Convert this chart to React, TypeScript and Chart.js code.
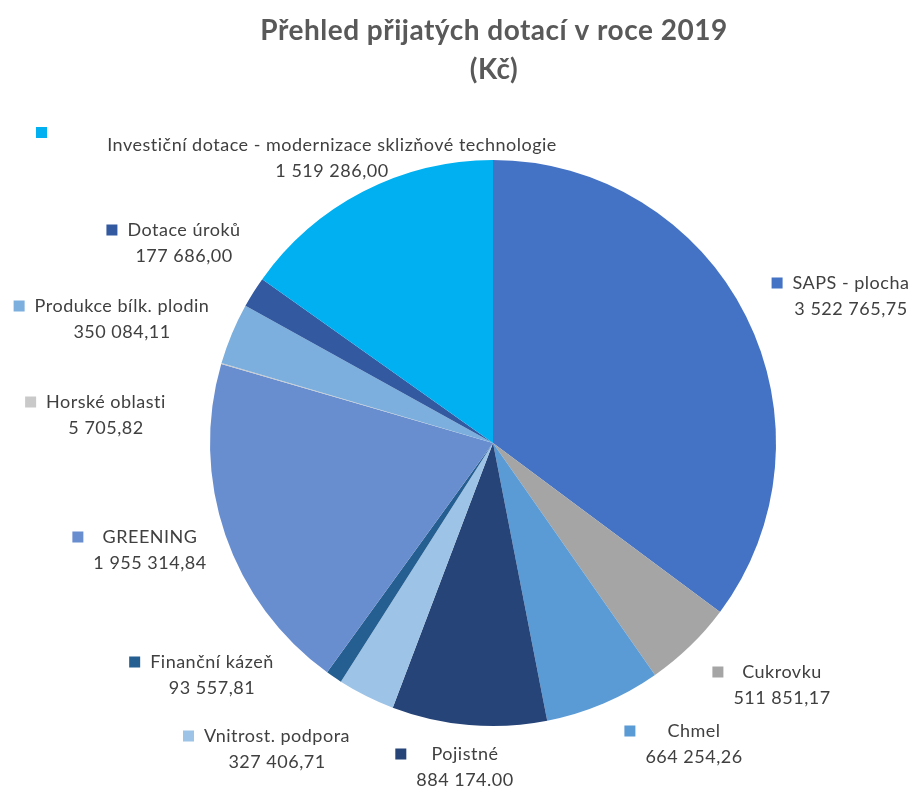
import React, { useEffect, useRef } from "react";
import { Chart, registerables } from "chart.js";

Chart.register(...registerables);

const categories = [
  "SAPS - plocha",
  "Cukrovku",
  "Chmel",
  "Pojistné",
  "Vnitrost. podpora",
  "Finanční kázeň",
  "GREENING",
  "Horské oblasti",
  "Produkce bílk. plodin",
  "Dotace úroků",
  "Investiční dotace - modernizace sklizňové technologie",
];

const values = [
  3522765.75, 511851.17, 664254.26, 884174.0, 327406.71, 93557.81,
  1955314.84, 5705.82, 350084.11, 177686.0, 1519286.0,
];

const valueTexts = [
  "3 522 765,75",
  "511 851,17",
  "664 254,26",
  "884 174.00",
  "327 406,71",
  "93 557,81",
  "1 955 314,84",
  "5 705,82",
  "350 084,11",
  "177 686,00",
  "1 519 286,00",
];

const colors = [
  "#4472C4",
  "#A5A5A5",
  "#5B9BD5",
  "#264478",
  "#9DC3E6",
  "#255E91",
  "#698ED0",
  "#C9C9C9",
  "#7CAFDD",
  "#335AA1",
  "#00B0F0",
];

const titleLines = ["Přehled přijatých dotací v roce 2019", "(Kč)"];

// label block placement (center x of text, center y of first line), relative to canvas
const labelLayout = [
  { x: 851, y: 283 },
  { x: 782, y: 672 },
  { x: 694, y: 731 },
  { x: 465, y: 754 },
  { x: 277, y: 736 },
  { x: 212, y: 662 },
  { x: 150, y: 537 },
  { x: 106, y: 402 },
  { x: 122, y: 306 },
  { x: 184, y: 230 },
  { x: 332, y: 145, sq: { x: 36, y: 127 } },
];

const FONT = "Lato, 'Open Sans', sans-serif";

const labelPlugin = {
  id: "outsideLabels",
  afterDraw(chart: any) {
    const ctx = chart.ctx as any;
    ctx.save();
    // title
    ctx.fillStyle = "#595959";
    ctx.font = `bold 28px ${FONT}`;
    ctx.letterSpacing = "0.5px";
    ctx.textAlign = "center";
    ctx.textBaseline = "middle";
    ctx.fillText(titleLines[0], 494, 31);
    ctx.fillText(titleLines[1], 494, 70);

    ctx.font = `18px ${FONT}`;
    ctx.letterSpacing = "0.5px";
    const bg = chart.data.datasets[0].backgroundColor as string[];
    chart.data.labels.forEach((lab: string, i: number) => {
      const lay: any = labelLayout[i];
      const t1 = lab;
      const t2 = valueTexts[i];
      const w = Math.max(ctx.measureText(t1).width, ctx.measureText(t2).width);
      ctx.fillStyle = "#404040";
      ctx.textAlign = "center";
      ctx.fillText(t1, lay.x, lay.y);
      ctx.fillText(t2, lay.x, lay.y + 26);
      ctx.fillStyle = bg[i];
      if (lay.sq) {
        ctx.fillRect(lay.sq.x, lay.sq.y, 11, 11);
      } else {
        const left = lay.x - w / 2;
        ctx.fillRect(left - 21, lay.y - 5.5, 11, 11);
      }
    });
    ctx.restore();
  },
};

export default function App() {
  const ref = useRef<HTMLCanvasElement>(null);
  useEffect(() => {
    if (!ref.current) return;
    const chart = new Chart(ref.current, {
      type: "pie",
      data: {
        labels: categories,
        datasets: [
          {
            data: values,
            backgroundColor: colors,
            borderWidth: 0,
          },
        ],
      },
      options: {
        responsive: false,
        animation: false,
        layout: { padding: { left: 210, right: 137, top: 160, bottom: 61 } },
        plugins: {
          legend: { display: false },
          title: { display: false },
          tooltip: { enabled: false },
        },
      },
      plugins: [labelPlugin],
    });
    return () => chart.destroy();
  }, []);
  return (
    <div style={{ position: "fixed", left: 0, top: 0, width: 913, height: 787, background: "#fff" }}>
      <canvas ref={ref} width={913} height={787} style={{ width: 913, height: 787 }} />
    </div>
  );
}
